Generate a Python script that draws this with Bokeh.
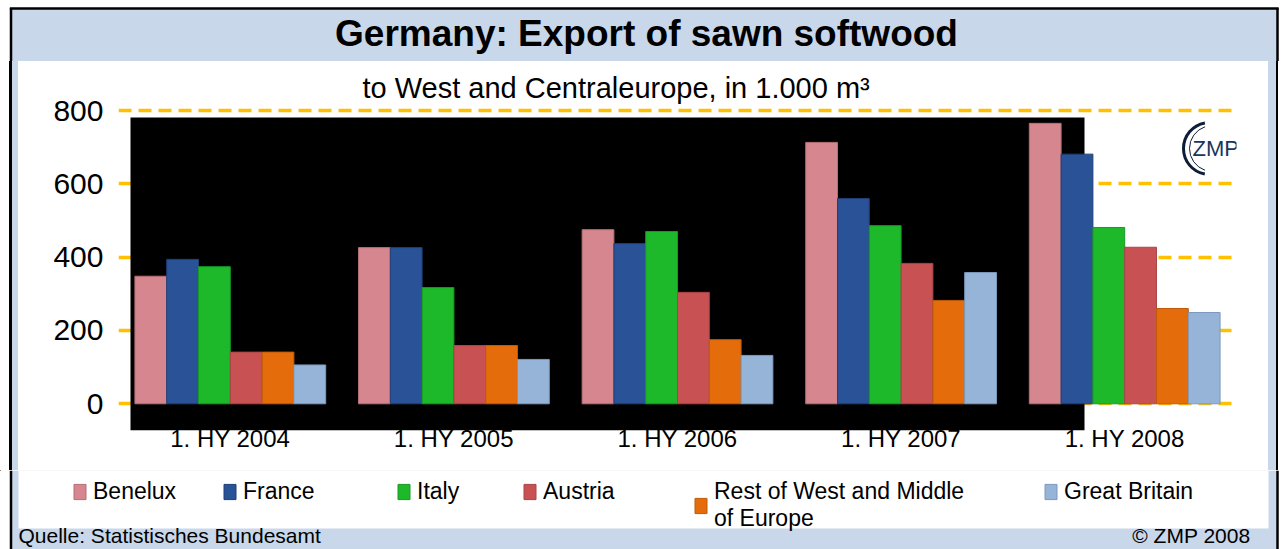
from bokeh.plotting import figure
from bokeh.layouts import column, row
from bokeh.models import (Range1d, ColumnDataSource, FixedTicker,
                          Legend, LegendItem, Label, Title)
from bokeh.transform import dodge
from bokeh.embed import file_html
from bokeh.resources import INLINE

# ---------------- data ----------------
periods = ["1. HY 2004", "1. HY 2005", "1. HY 2006", "1. HY 2007", "1. HY 2008"]
benelux = [348, 426, 475, 713, 765]
france = [394, 426, 437, 560, 681]
italy = [374, 317, 470, 486, 481]
austria = [141, 159, 304, 383, 427]
rest_west_middle = [141, 159, 175, 282, 260]
great_britain = [106, 121, 132, 358, 249]
series_labels = ["Benelux", "France", "Italy", "Austria",
                 "Rest of West and Middle\nof Europe", "Great Britain"]
y_ticks = [0, 200, 400, 600, 800]

title_text = "Germany: Export of sawn softwood"
subtitle_text = "to West and Centraleurope, in 1.000 m³"
source_text = "Quelle: Statistisches Bundesamt"
copyright_text = "© ZMP 2008"

# ---------------- style ----------------
FONT = "Liberation Sans"
BAND = "#C9D7EA"
GRID = "#FFC000"
fills = ["#D6868E", "#2A5296", "#1DB92B", "#C85253", "#E46C0B", "#95B4D8"]
edges = ["#B36F76", "#1F3F78", "#179A25", "#A84546", "#BF5A09", "#7D99BC"]
W, H = 1282, 549
Y_MID, Y_BOT = 61, 470          # page rows of the main chart figure
X_L, X_R = 18, 1268             # white panel columns
BORDER_L, BORDER_R, BORDER_T = 10.5, 1277, 8

# page background for the chart row: white | black border | blue strip | white | blue | black | white
STRIPES = ("linear-gradient(to right, #ffffff 0px, #ffffff 9.3px, #000000 9.3px, "
           "#000000 11.7px, %s 11.7px, %s 18px, #ffffff 18px, #ffffff 1268px, "
           "%s 1268px, %s 1275.8px, #000000 1275.8px, #000000 1278.2px, "
           "#ffffff 1278.2px)" % (BAND, BAND, BAND, BAND))


def deco_fig(x0, x1, y0, y1):
    """Figure whose data coordinates are page pixels (frame = whole canvas)."""
    f = figure(width=x1 - x0, height=y1 - y0, title=None,
               x_range=Range1d(x0, x1), y_range=Range1d(y1, y0),
               x_axis_location=None, y_axis_location=None,
               output_backend="svg", toolbar_location=None,
               min_border=0, min_border_left=0, min_border_right=0,
               min_border_top=0, min_border_bottom=0,
               background_fill_color="white", border_fill_color="white",
               outline_line_color=None)
    f.grid.visible = False
    return f


def text(f, x, y, s, size, align="left", style="normal", color="black"):
    f.add_layout(Label(x=x, y=y, text=s, text_font=FONT, text_font_size=size,
                       text_align=align, text_baseline="middle",
                       text_font_style=style, text_color=color))


# ---------------- top band ----------------
top = deco_fig(0, W, 0, Y_MID)
top.quad(left=[BORDER_L], right=[BORDER_R], top=[BORDER_T], bottom=[Y_MID],
         fill_color=BAND, line_color=None)
top.segment(x0=[BORDER_L - 1.2, BORDER_L, BORDER_R], y0=[BORDER_T, BORDER_T, BORDER_T],
            x1=[BORDER_R + 1.2, BORDER_L, BORDER_R], y1=[BORDER_T, Y_MID, Y_MID],
            line_color="black", line_width=2.5)
text(top, 646, 33, title_text, "37px", align="center", style="bold")

# ---------------- main chart ----------------
keys = ["benelux", "france", "italy", "austria", "rest", "gb"]
group_pos = [i + 0.5 for i in range(len(periods))]
src = ColumnDataSource(dict(pos=group_pos, period=periods, benelux=benelux,
                            france=france, italy=italy, austria=austria,
                            rest=rest_west_middle, gb=great_britain))

p = figure(width=W, height=Y_BOT - Y_MID, title=None,
           x_range=Range1d(0, len(periods)),
           y_range=Range1d(-72.8, 819.1),
           output_backend="svg", toolbar_location=None,
           min_border_left=118, min_border_right=46,
           min_border_top=42, min_border_bottom=40,
           border_fill_alpha=0, background_fill_color="white",
           outline_line_color=None)
p.styles = {"background": STRIPES}
p.extra_x_ranges = {"px": Range1d(118, 1236)}
p.extra_y_ranges = {"py": Range1d(430, 103)}
p.xgrid.visible = False
p.ygrid.visible = False

p.add_layout(Title(text=subtitle_text, align="left", offset=244, standoff=0,
                   text_font=FONT, text_font_size="29px",
                   text_font_style="normal", text_color="black"), "above")

# dashed gridlines
p.hspan(y=y_ticks, line_color=GRID, line_width=3.3, line_dash="13 7")
# black plot-area rectangle
p.quad(left=[130], right=[1084], top=[117], bottom=[430],
       x_range_name="px", y_range_name="py", fill_color="black", line_color=None)

w = 0.1422
for i, k in enumerate(keys):
    p.vbar(x=dodge("pos", (i - 2.5) * w), top=k, width=w, source=src,
           fill_color=fills[i], line_color=edges[i], line_width=1)

p.yaxis.ticker = FixedTicker(ticks=y_ticks)
p.yaxis.major_label_text_font = FONT
p.yaxis.major_label_text_font_size = "30px"
p.yaxis.major_label_text_color = "black"
p.yaxis.major_tick_out = 0
p.yaxis.major_tick_in = 0
p.yaxis.major_label_standoff = 15
p.yaxis.axis_line_color = None
p.yaxis.major_tick_line_color = None
p.yaxis.minor_tick_line_color = None

p.xaxis.ticker = FixedTicker(ticks=group_pos)
p.xaxis.major_label_overrides = {pos: lbl for pos, lbl in zip(group_pos, periods)}
p.xaxis.major_label_text_font = FONT
p.xaxis.major_label_text_font_size = "24px"
p.xaxis.major_label_text_color = "black"
p.xaxis.major_tick_out = 0
p.xaxis.major_tick_in = 0
p.xaxis.major_label_standoff = -6
p.xaxis.axis_line_color = None
p.xaxis.major_tick_line_color = None
p.xaxis.minor_tick_line_color = None

# ZMP logo
p.arc(x=[1209], y=[148], radius=26, start_angle=1.75, end_angle=4.53,
      x_range_name="px", y_range_name="py", line_color="#0E1E38", line_width=3)
p.arc(x=[1212], y=[148], radius=23, start_angle=1.9, end_angle=4.38,
      x_range_name="px", y_range_name="py", line_color="#0E1E38", line_width=1)
p.add_layout(Label(x=1192, y=148, text="ZMP", x_range_name="px", y_range_name="py",
                   text_font=FONT, text_font_size="22px", text_color="#17375E",
                   text_baseline="middle"))

# ---------------- bottom: legend + footer ----------------
bot = deco_fig(0, W, Y_BOT, H)
bot.quad(left=[BORDER_L], right=[BORDER_R], top=[Y_BOT], bottom=[H],
         fill_color=BAND, line_color=None)
bot.quad(left=[X_L], right=[X_R], top=[Y_BOT], bottom=[528],
         fill_color="white", line_color=None)
bot.segment(x0=[BORDER_L, BORDER_R], y0=[Y_BOT, Y_BOT], x1=[BORDER_L, BORDER_R],
            y1=[H, H], line_color="black", line_width=2.5)

legend_x = [72, 222, 396, 522, 693, 1043]
for i in range(len(keys)):
    # legend-only renderer (its single bar lies outside the visible range)
    r = bot.vbar(x=[-50], top=[0], width=1, fill_color=fills[i], line_color=edges[i])
    two_line = "\n" in series_labels[i]
    leg = Legend(items=[LegendItem(label=series_labels[i], renderers=[r])],
                 location=(legend_x[i], 17 if two_line else 44),
                 padding=0, margin=0, spacing=0,
                 glyph_width=15, glyph_height=19, label_standoff=6,
                 label_text_font=FONT, label_text_font_size="23px",
                 label_text_color="black",
                 border_line_color=None, background_fill_alpha=0)
    bot.add_layout(leg)

text(bot, 18, 535, source_text, "21px")
text(bot, 1250, 535, copyright_text, "21px", align="right")

layout = column(top, row(p), bot, spacing=0)
open("out.html", "w").write(file_html(layout, INLINE))
